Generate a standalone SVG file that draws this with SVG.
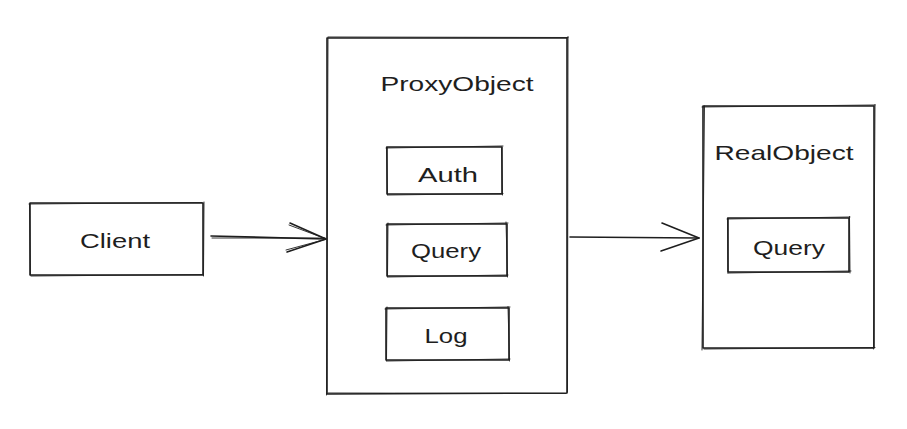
<svg xmlns="http://www.w3.org/2000/svg" width="907" height="429" viewBox="0 0 907 429">
<style>
.b{fill:none;stroke:#1e1e1e;stroke-width:1.6;stroke-linecap:round;stroke-linejoin:round}
.b2{fill:none;stroke:#1e1e1e;stroke-width:0.9;stroke-linecap:round}
.t{font-family:"Liberation Sans","DejaVu Sans",sans-serif;font-size:21px;fill:#1e1e1e;text-anchor:middle}
</style>
<rect width="907" height="429" fill="#ffffff"/>
<g id="client">
<path class="b" d="M30 203 L203 203 L203 275 L30 275 Z"/>
<path class="b2" d="M29 204 L202 202.5 M204 202 L203.5 276 M202 274.5 L31 276 M30.5 275 L29.5 204"/>
<text class="t" x="115" y="248" textLength="70" lengthAdjust="spacingAndGlyphs">Client</text>
</g>
<g id="proxy">
<path class="b" d="M327 38 L567 38 L567 393 L327 394 Z"/>
<path class="b2" d="M328 37 L568 37.5 M568 36.5 L567.5 392 M566 393.5 L328 393 M326.5 395 L328 38"/>
<text class="t" x="457" y="91" textLength="153" lengthAdjust="spacingAndGlyphs">ProxyObject</text>
</g>
<g id="auth">
<path class="b" d="M387 147 L502 147 L502 194 L387 194 Z"/>
<path class="b2" d="M386 148 L503 146 M501.5 148 L502.5 195 M503 193.5 L388 195 M387.5 195 L386.5 147"/>
<text class="t" x="448" y="182" textLength="60" lengthAdjust="spacingAndGlyphs">Auth</text>
</g>
<g id="query1">
<path class="b" d="M387 224 L507 224 L507 276 L387 276 Z"/>
<path class="b2" d="M386 225 L508 223 M506 222 L507.5 277 M508 275 L388 277 M387.5 277 L388 223"/>
<text class="t" x="446" y="258" textLength="70" lengthAdjust="spacingAndGlyphs">Query</text>
</g>
<g id="log">
<path class="b" d="M386 308 L509 308 L509 360 L386 360 Z"/>
<path class="b2" d="M385 309 L510 307 M508 306.5 L509.5 361 M510 359 L387 361 M386.5 361 L387 307"/>
<text class="t" x="446" y="343" textLength="43" lengthAdjust="spacingAndGlyphs">Log</text>
</g>
<g id="real">
<path class="b" d="M703 106 L874 106 L874 348 L703 348 Z"/>
<path class="b2" d="M702 107 L875 105 M875 104.5 L873.5 349 M875 347.5 L704 349 M702 350 L704.5 106"/>
<text class="t" x="784" y="160" textLength="139" lengthAdjust="spacingAndGlyphs">RealObject</text>
</g>
<g id="query2">
<path class="b" d="M728 218 L849 218 L849 272 L728 272 Z"/>
<path class="b2" d="M727 219 L850 217 M849.5 216.5 L850 273 M851 271 L729 273 M728 273.5 L727.5 218"/>
<text class="t" x="789" y="255" textLength="72" lengthAdjust="spacingAndGlyphs">Query</text>
</g>
<g id="connectors">
<path class="b" d="M211 236 L326 239"/>
<path class="b2" d="M212 238 L325 238"/>
<path class="b" d="M290 223 L326 239 M287 252 L326 239"/>
<path class="b2" d="M289 225 L325 238.5 M286 250 L325 239.5"/>
<path class="b" d="M570 237 L699 238"/>
<path class="b" d="M662 223 L699 238 M661 251 L699 238"/>
</g>
</svg>
